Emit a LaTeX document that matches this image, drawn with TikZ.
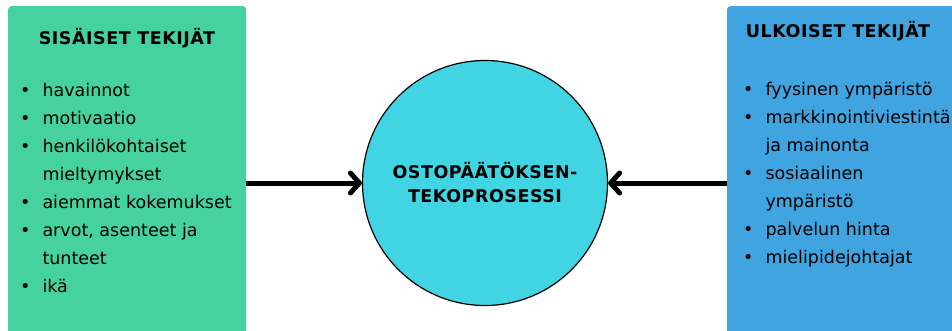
\documentclass[tikz,border=0pt]{standalone}
\usepackage{fontspec}
\setmainfont{DejaVu Sans}
\newfontfamily\otsfont[LetterSpace=3]{DejaVu Sans}
\usetikzlibrary{arrows.meta,positioning}
\definecolor{sisavari}{HTML}{45D2A0}
\definecolor{ulkovari}{HTML}{3FA4DF}
\definecolor{prosvari}{HTML}{41D4E2}

\begin{document}
\begin{tikzpicture}[x=1pt,y=-1pt,
  box/.style={fill=#1,rounded corners=3pt,anchor=north west,inner sep=0pt},
  otsikko/.style={font=\otsfont\fontsize{17.5}{24}\selectfont\bfseries},
  lista/.style={anchor=north west,inner sep=0pt,align=left,font=\fontsize{17.5}{28}\selectfont},
  nuoli/.style={line width=5pt,-{Straight Barb[length=9pt,width=20pt,round]}}]
\useasboundingbox (0,0) rectangle (952,330);
\clip (0,0) rectangle (952,330);
\node[box=sisavari,minimum width=238pt,minimum height=340pt] (sis) at (8,6) {};
\node[box=ulkovari,minimum width=240pt,minimum height=340pt] (ulk) at (727,6) {};
\node[otsikko] (sisot) at (127,38) {SISÄISET TEKIJÄT};
\node[otsikko] (ulkot) at (838,31) {ULKOISET TEKIJÄT};
\node[lista] (sislista) at (20,77) {\begin{tabular}{@{}l@{\hspace{12pt}}l@{}}
\textbullet & havainnot\\
\textbullet & motivaatio\\
\textbullet & henkilökohtaiset\\
 & mieltymykset\\
\textbullet & aiemmat kokemukset\\
\textbullet & arvot, asenteet ja\\
 & tunteet\\
\textbullet & ikä
\end{tabular}};
\node[lista] (ulklista) at (743,76) {\begin{tabular}{@{}l@{\hspace{12pt}}l@{}}
\textbullet & fyysinen ympäristö\\
\textbullet & markkinointiviestintä\\
 & ja mainonta\\
\textbullet & sosiaalinen\\
 & ympäristö\\
\textbullet & palvelun hinta\\
\textbullet & mielipidejohtajat
\end{tabular}};
\node[circle,fill=prosvari,draw,line width=1.2pt,minimum size=245pt,align=center,
  font=\otsfont\fontsize{17.5}{24}\selectfont\bfseries] (pros) at (485,183) {OSTOPÄÄTÖKSEN-\\TEKOPROSESSI};
\draw[nuoli] (sis.east |- pros.center) -- (pros.west);
\draw[nuoli] (ulk.west |- pros.center) -- (pros.east);
\end{tikzpicture}
\end{document}
